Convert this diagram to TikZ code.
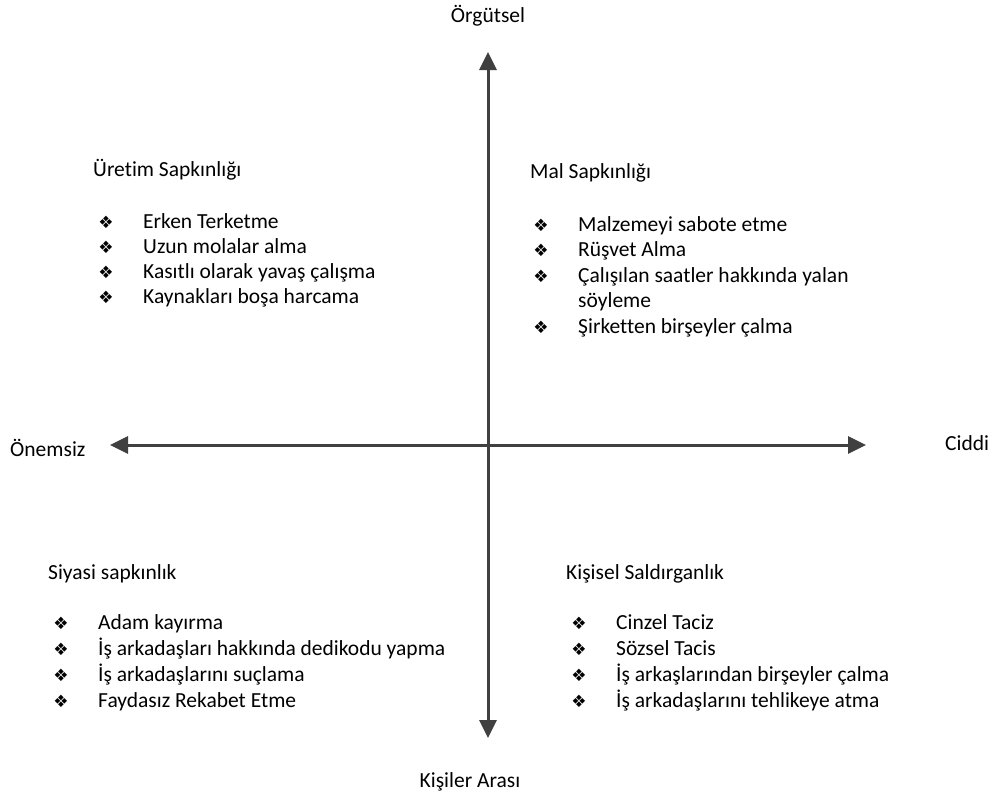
\documentclass[tikz,border=0pt]{standalone}
\usepackage{fontspec}
\setmainfont[Ligatures=NoCommon]{Carlito}
\newfontfamily\symfont{DejaVu Sans}
\usetikzlibrary{arrows.meta}
\definecolor{axisgray}{HTML}{404040}
\begin{document}
\begin{tikzpicture}[x=1pt,y=-1pt,
  lbl/.style={anchor=base west,inner sep=0pt,font=\fontsize{21.5}{25}\selectfont,text=black},
  clbl/.style={anchor=base,inner sep=0pt,font=\fontsize{21.5}{25}\selectfont,text=black},
  bul/.style={anchor=base,inner sep=0pt,font=\symfont\fontsize{17}{19}\selectfont,text=black},
  axis/.style={draw=axisgray,line width=3pt,-{Triangle[length=18pt,width=17pt]},fill=axisgray}]
\useasboundingbox (0,0) rectangle (1003,796);
% axes
\coordinate (c) at (488,445);
\coordinate (top) at (488,52);
\coordinate (bot) at (488,738);
\coordinate (lft) at (110,445);
\coordinate (rgt) at (866,445);
\draw[axis] (c) -- (top);
\draw[axis] (c) -- (bot);
\draw[axis] (c) -- (lft);
\draw[axis] (c) -- (rgt);
% axis labels
\node[clbl] (org) at (488,22) {Örgütsel};
\node[lbl] (onem) at (10,456) {Önemsiz};
\node[lbl] (cid) at (945,450) {Ciddi};
\node[clbl] (kis) at (470,787) {Kişiler Arası};
% top-left
\node[lbl] (tlt) at (93,176) {Üretim Sapkınlığı};
\foreach \t [count=\i] in {Erken Terketme,Uzun molalar alma,Kasıtlı olarak yavaş çalışma,Kaynakları boşa harcama}{
  \node[bul] (tlb\i) at (106,203+25*\i) {❖};
  \node[lbl] (tl\i) at (143,203+25*\i) {\t};
}
% top-right
\node[lbl] (trt) at (530,178) {Mal Sapkınlığı};
\node[bul] (trb1) at (541,231) {❖};
\node[lbl] (tr1) at (578,231) {Malzemeyi sabote etme};
\node[bul] (trb2) at (541,256.5) {❖};
\node[lbl] (tr2) at (578,256.5) {Rüşvet Alma};
\node[bul] (trb3) at (541,282) {❖};
\node[lbl] (tr3) at (578,282) {Çalışılan saatler hakkında yalan};
\node[lbl] (tr3b) at (578,307.5) {söyleme};
\node[bul] (trb4) at (541,333) {❖};
\node[lbl] (tr4) at (578,333) {Şirketten birşeyler çalma};
% bottom-left
\node[lbl] (blt) at (48,579) {Siyasi sapkınlık};
\foreach \t [count=\i] in {Adam kayırma,İş arkadaşları hakkında dedikodu yapma,İş arkadaşlarını suçlama,Faydasız Rekabet Etme}{
  \node[bul] (blb\i) at (61,603+26*\i) {❖};
  \node[lbl] (bl\i) at (98,603+26*\i) {\t};
}
% bottom-right
\node[lbl] (brt) at (566,579) {Kişisel Saldırganlık};
\foreach \t [count=\i] in {Cinzel Taciz,Sözsel Tacis,İş arkaşlarından birşeyler çalma,İş arkadaşlarını tehlikeye atma}{
  \node[bul] (brb\i) at (579,603+26*\i) {❖};
  \node[lbl] (br\i) at (616,603+26*\i) {\t};
}
\end{tikzpicture}
\end{document}
